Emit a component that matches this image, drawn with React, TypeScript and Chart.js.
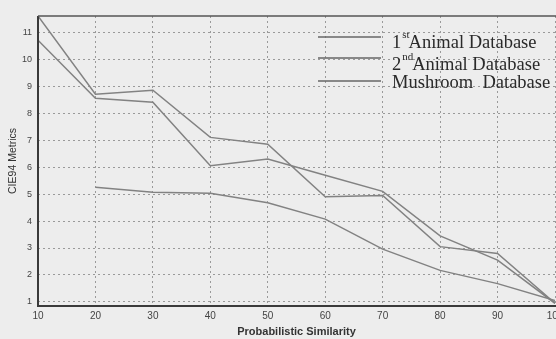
import React, { useEffect, useRef } from "react";
import { Chart, registerables } from "chart.js";

Chart.register(...registerables);

const xValues = [10, 20, 30, 40, 50, 60, 70, 80, 90, 100];
const animal1 = [11.6, 8.7, 8.85, 7.1, 6.85, 4.9, 4.95, 3.05, 2.8, 0.95];
const animal2 = [10.7, 8.55, 8.4, 6.05, 6.3, 5.7, 5.1, 3.45, 2.55, 0.95];
const mushroom = [null, 5.25, 5.07, 5.03, 4.68, 4.07, 2.96, 2.17, 1.68, 1.05];
const yTicks = [1, 2, 3, 4, 5, 6, 7, 8, 9, 10, 11];
const seriesNames = ["Animal Database", "Animal Database", "Mushroom  Database"];
const seriesPrefix = ["1", "2", ""];
const seriesSup = ["st", "nd", ""];

const BG = "#ededed";

const framePlugin = {
  id: "frame",
  beforeDraw(chart: any) {
    const { ctx } = chart;
    ctx.save();
    ctx.fillStyle = BG;
    ctx.fillRect(0, 0, chart.width, chart.height);
    ctx.restore();
  },
  afterDraw(chart: any) {
    const { ctx, chartArea: a } = chart;
    ctx.save();
    ctx.strokeStyle = "#3a3a3a";
    ctx.lineWidth = 2;
    ctx.beginPath();
    ctx.moveTo(a.left, a.top);
    ctx.lineTo(a.left, a.bottom);
    ctx.lineTo(a.right + 2, a.bottom);
    ctx.stroke();
    ctx.lineWidth = 1.5;
    ctx.strokeStyle = "#555";
    ctx.beginPath();
    ctx.moveTo(a.left, a.top);
    ctx.lineTo(a.right + 2, a.top);
    ctx.stroke();

    // legend
    const lx0 = 318;
    const lx1 = 381;
    const lineYs = [37, 58, 81];
    const baseYs = [48, 70, 88];
    ctx.strokeStyle = "#666";
    ctx.lineWidth = 1.5;
    ctx.fillStyle = "#2a2a2a";
    ctx.textBaseline = "alphabetic";
    ctx.textAlign = "left";
    for (let i = 0; i < 3; i++) {
      ctx.beginPath();
      ctx.moveTo(lx0, lineYs[i]);
      ctx.lineTo(lx1, lineYs[i]);
      ctx.stroke();
      let x = 392;
      ctx.font = "18.5px 'Liberation Serif'";
      if (seriesPrefix[i]) {
        ctx.fillText(seriesPrefix[i], x, baseYs[i]);
        x += ctx.measureText(seriesPrefix[i]).width + 1;
        ctx.font = "11px 'Liberation Serif'";
        ctx.fillText(seriesSup[i], x, baseYs[i] - 10);
        x += ctx.measureText(seriesSup[i]).width - 1;
        ctx.font = "18.5px 'Liberation Serif'";
      }
      ctx.fillText(seriesNames[i], x, baseYs[i]);
    }
    ctx.restore();
  },
};

export default function App() {
  const ref = useRef<HTMLCanvasElement>(null);
  useEffect(() => {
    const lineColor = "#828282";
    const mk = (label: string, data: any[]) => ({
      label,
      data: xValues.map((x, i) => ({ x, y: data[i] })),
      borderColor: lineColor,
      borderWidth: 1.5,
      pointRadius: 0,
      fill: false,
      tension: 0,
      spanGaps: false,
    });
    const chart = new Chart(ref.current as HTMLCanvasElement, {
      type: "line",
      data: {
        datasets: [
          mk("1st Animal Database", animal1),
          mk("2nd Animal Database", animal2),
          mk("Mushroom Database", mushroom),
        ],
      },
      options: {
        animation: false,
        responsive: false,
        devicePixelRatio: 1,
        layout: { padding: { top: 16, right: 45, left: 0, bottom: 0 } },
        plugins: { legend: { display: false }, tooltip: { enabled: false } },
        scales: {
          x: {
            type: "linear",
            min: 10,
            max: 100,
            ticks: {
              stepSize: 10,
              color: "#444",
              font: { family: "'Liberation Sans'", size: 10 },
              padding: 4,
              maxRotation: 0,
            },
            grid: { color: "#9a9a9a", lineWidth: 1, drawTicks: false },
            border: { display: false, dash: [2, 3] },
            title: {
              display: true,
              text: "Probabilistic Similarity",
              color: "#333",
              font: { family: "'Liberation Sans'", size: 11, weight: "bold" },
              padding: { top: 2, bottom: 0 },
            },
            afterFit: (s: any) => {
              s.height = 33;
            },
          },
          y: {
            type: "linear",
            min: 0.85,
            max: 11.6,
            afterBuildTicks: (s: any) => {
              s.ticks = yTicks.map((v) => ({ value: v }));
            },
            ticks: {
              color: "#444",
              font: { family: "'Liberation Sans'", size: 9 },
              padding: 6,
            },
            grid: { color: "#9a9a9a", lineWidth: 1, drawTicks: false },
            border: { display: false, dash: [2, 3] },
            title: {
              display: true,
              text: "CIE94 Metrics",
              color: "#333",
              font: { family: "'Liberation Sans'", size: 10.5 },
              padding: { top: 7, bottom: 0 },
            },
            afterFit: (s: any) => {
              s.width = 38;
            },
          },
        },
      },
      plugins: [framePlugin],
    });
    return () => chart.destroy();
  }, []);
  return (
    <div
      style={{
        position: "fixed",
        left: 0,
        top: 0,
        width: 556,
        height: 339,
        overflow: "hidden",
        background: BG,
      }}
    >
      <canvas ref={ref} width={600} height={339} style={{ display: "block" }} />
    </div>
  );
}
